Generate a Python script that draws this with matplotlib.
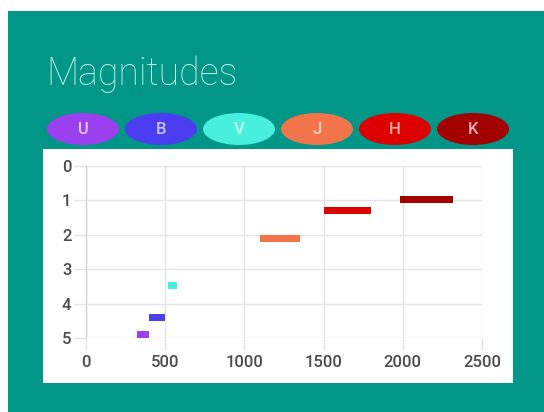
import matplotlib.pyplot as plt
from matplotlib.patches import Rectangle, Ellipse

bands = ['U', 'B', 'V', 'J', 'H', 'K']
wl_start = [320, 400, 515, 1100, 1500, 1980]
wl_end = [400, 500, 575, 1350, 1800, 2320]
mags = [4.9, 4.4, 3.47, 2.12, 1.3, 0.98]
colors = ['#9b40ee', '#4a3ef0', '#47f0dc', '#f2744a', '#dc0000', '#a30000']
xticks = [0, 500, 1000, 1500, 2000, 2500]
yticks = [0, 1, 2, 3, 4, 5]

W, H = 544, 412
fig = plt.figure(figsize=(W / 100, H / 100), dpi=100, facecolor='white')

def px(x, y, w, h):
    # pixel box (top-left origin) -> figure fraction
    return (x / W, 1 - (y + h) / H, w / W, h / H)

# teal card
x0, y0, w0, h0 = px(8, 11, 540, 410)
fig.patches.append(Rectangle((x0, y0), w0, h0, transform=fig.transFigure,
                             facecolor='#009688', edgecolor='none', zorder=0))
# white chart panel
x1, y1, w1, h1 = px(43, 149, 470, 234)
fig.patches.append(Rectangle((x1, y1), w1, h1, transform=fig.transFigure,
                             facecolor='white', edgecolor='none', zorder=1))

fig.text(46 / W, 1 - 85 / H, 'Magnitudes', family='Roboto', fontweight='light',
         fontsize=27, color='#c8ece6', ha='left', va='baseline')

# legend pills
for i, (b, c) in enumerate(zip(bands, colors)):
    cx = (83 + i * 78) / W
    cy = 1 - 129 / H
    fig.patches.append(Ellipse((cx, cy), 72 / W, 32 / H, transform=fig.transFigure,
                               facecolor=c, edgecolor='none', zorder=2))
    fig.text(cx, cy, b, family='Roboto', fontweight='medium', fontsize=12,
             color='white', alpha=0.7, ha='center', va='center', zorder=3)

ax = fig.add_axes((86 / W, 1 - 338 / H, 396 / W, 172.3 / H))
ax.set_facecolor('none')
ax.set_zorder(4)
ax.barh(mags, [e - s for s, e in zip(wl_start, wl_end)], left=wl_start,
        height=0.2, color=colors, zorder=3)
ax.set_xlim(0, 2500)
ax.set_ylim(5, 0)
ax.set_xticks(xticks)
ax.set_yticks(yticks)
ax.grid(True, color='#e4e4e4', linewidth=1, zorder=0)
for s in ['top', 'right', 'bottom']:
    ax.spines[s].set_visible(False)
ax.spines['left'].set_color('#cccccc')
ax.tick_params(axis='both', length=8.5, width=1, color='#e4e4e4',
               labelcolor='#4a4a4a', labelsize=12)
ax.tick_params(axis='y', pad=2)
ax.tick_params(axis='x', pad=4)
for lab in ax.get_xticklabels() + ax.get_yticklabels():
    lab.set_family('Roboto')
    lab.set_fontweight('medium')

fig.savefig('out.png', dpi=100, facecolor='white')
